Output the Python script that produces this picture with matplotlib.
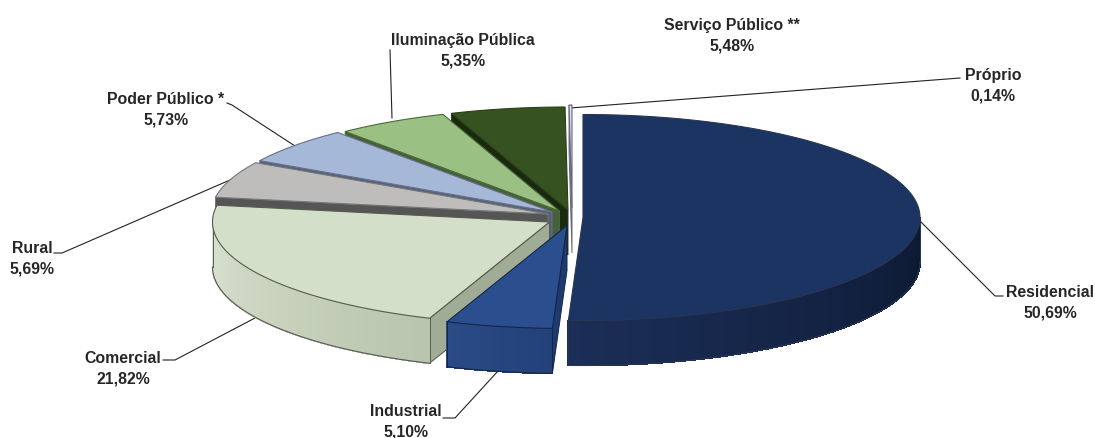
#!/usr/bin/env python3
import numpy as np
import matplotlib
matplotlib.use("Agg")
import matplotlib.pyplot as plt
from matplotlib.colors import to_rgb

plt.rcParams["font.family"] = ["Liberation Sans", "DejaVu Sans"]

# data, clockwise from the top of the pie
LABELS = ["Residencial", "Industrial", "Comercial", "Rural", "Poder Público *",
          "Iluminação Pública", "Serviço Público **", "Próprio"]
SHARES = [50.69, 5.10, 21.82, 5.69, 5.73, 5.35, 5.48, 0.14]

# pie layout (pixels)
RX, RY, DEPTH = 337, 103, 45
APEX_X = [583, 567, 549.5, 548, 552, 559.5, 568, 572]
APEX_Y = [217.5, 225.5, 222, 214, 212, 211, 210, 208]

TOP = ["#1c3461", "#2b4f8e", "#d3dfc8", "#bfbcbc", "#a6b8d8", "#9bc083", "#355220", "#dcdcec"]
FACE = ["#14264a", "#1f3a6e", "#a0ac95", "#555555", "#55607a", "#48603a", "#1a2a0e", "#8f8fb0"]
WALL_L = ["#1b2e57", "#2a4b86", "#d8e2cf", "#8a8888", "#7a88a0", "#6f8f5f", "#26401a", "#9090b0"]
WALL_R = ["#0c1830", "#234079", "#b9c4ae", "#8a8888", "#7a88a0", "#6f8f5f", "#26401a", "#9090b0"]
EDGE = ["#2a3550", "#14264a", "#555b50", "#777777", "#66708a", "#4a6a3a", "#2a3f1a", "#666680"]

# back slices first, the residential one on top of everything
DRAW_ORDER = [7, 6, 5, 4, 3, 2, 1, 0]

# leader lines from the rim to the label, and label centres
LEADERS = [
    [(919, 220), (995, 296), (1003, 296)],
    [(498, 371), (455, 418), (443, 418)],
    [(255, 318), (175, 360), (163, 360)],
    [(230, 180), (62, 253), (54, 253)],
    [(295, 146), (232, 105), (227, 103)],
    [(392, 118), (390, 50)],
    None,
    [(570, 108), (960, 78)],
]
LABEL_POS = [(1050, 303), (406, 422), (123, 369), (32, 259), (166, 110),
             (463, 51), (732, 36), (993, 86)]


def rim(i, theta):
    return APEX_X[i] + RX * np.sin(theta), APEX_Y[i] - RY * np.cos(theta)


def draw_slice(ax, i, start, end):
    z = 2 + DRAW_ORDER.index(i)
    cx, cy = APEX_X[i], APEX_Y[i]

    # cut face at the start of the slice
    x0, y0 = rim(i, start)
    ax.fill([cx, x0, x0, cx], [cy, y0, y0 + DEPTH, cy + DEPTH],
            facecolor=FACE[i], edgecolor=EDGE[i], linewidth=0.7, zorder=z)

    # outer wall, only the front half of the ellipse shows
    lo, hi = max(start, np.pi / 2), min(end, 3 * np.pi / 2)
    if hi > lo:
        steps = np.linspace(lo, hi, 90)
        left, right = np.array(to_rgb(WALL_L[i])), np.array(to_rgb(WALL_R[i]))
        xs, ys = rim(i, steps)
        for k in range(len(steps) - 1):
            col = right + (left - right) * (k + 0.5) / (len(steps) - 1)
            ax.fill([xs[k], xs[k + 1], xs[k + 1], xs[k]],
                    [ys[k], ys[k + 1], ys[k + 1] + DEPTH, ys[k] + DEPTH],
                    facecolor=col, edgecolor=col, linewidth=0.6, antialiased=False, zorder=z)
        ax.plot(xs, ys + DEPTH, color=EDGE[i], linewidth=0.8, zorder=z)
        ax.plot([xs[0], xs[0]], [ys[0], ys[0] + DEPTH], color=EDGE[i], linewidth=0.7, zorder=z)
        ax.plot([xs[-1], xs[-1]], [ys[-1], ys[-1] + DEPTH], color=EDGE[i], linewidth=0.7, zorder=z)

    # top of the slice
    steps = np.linspace(start, end, 120)
    xs, ys = rim(i, steps)
    ax.fill(np.r_[cx, xs], np.r_[cy, ys], facecolor=TOP[i], edgecolor=EDGE[i],
            linewidth=0.8, zorder=z)


def main():
    fig = plt.figure(figsize=(10.95, 4.38), dpi=100)
    ax = fig.add_axes([0, 0, 1, 1])
    ax.set_xlim(0, 1095)
    ax.set_ylim(438, 0)
    ax.axis("off")

    limits = np.r_[0, np.cumsum(SHARES)] / np.sum(SHARES) * 2 * np.pi
    for i in DRAW_ORDER:
        draw_slice(ax, i, limits[i], limits[i + 1])

    for i, name in enumerate(LABELS):
        if LEADERS[i]:
            px, py = zip(*LEADERS[i])
            ax.plot(px, py, color="#222222", linewidth=0.8, zorder=1)
        value = f"{SHARES[i]:.2f}".replace(".", ",") + "%"
        ax.text(LABEL_POS[i][0], LABEL_POS[i][1], f"{name}\n{value}", ha="center", va="center",
                fontsize=11.4, fontweight="bold", color="#262626", linespacing=1.42, zorder=20)

    fig.savefig("out.png", dpi=100)


if __name__ == "__main__":
    main()
